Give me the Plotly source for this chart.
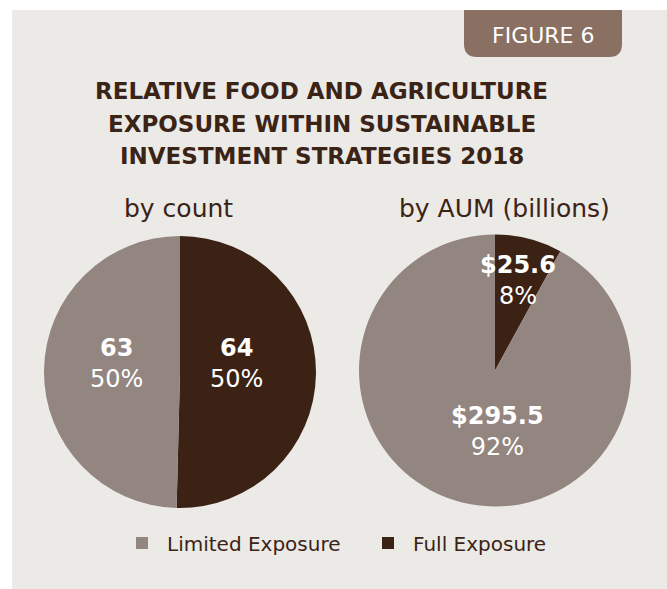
import plotly.graph_objects as go

# ---- data ----
categories = ["Full Exposure", "Limited Exposure"]
count_values = [64, 63]
aum_values = [25.6, 295.5]
subtitles = ["by count", "by AUM (billions)"]
title_lines = ["RELATIVE FOOD AND AGRICULTURE",
               "EXPOSURE WITHIN SUSTAINABLE",
               "INVESTMENT STRATEGIES 2018"]
figure_tag = "FIGURE 6"

# ---- styles ----
W, H = 667, 589
COLORS = ["#3C2215", "#938580"]
DARK = "#3B2316"
PANEL = "#ECEAE6"
TAB = "#8A6F63"
FONT = "DejaVu Sans"


def px(x):
    return x / W


def py(y):
    return 1 - y / H


def pie_domain(cx, cy, r):
    return dict(x=[px(cx - r), px(cx + r)], y=[py(cy + r), py(cy - r)])


fig = go.Figure()
fig.add_trace(go.Pie(
    labels=categories, values=count_values, sort=False,
    direction="clockwise", rotation=0,
    marker=dict(colors=COLORS, line=dict(width=0)),
    textinfo="none", hoverinfo="label+value+percent",
    domain=pie_domain(180, 372, 136), showlegend=True,
))
fig.add_trace(go.Pie(
    labels=categories, values=aum_values, sort=False,
    direction="clockwise", rotation=0,
    marker=dict(colors=COLORS, line=dict(width=0)),
    textinfo="none", hoverinfo="label+value+percent",
    domain=pie_domain(495, 370.5, 136), showlegend=False,
))

shapes = []
# background panel
shapes.append(dict(type="rect", xref="paper", yref="paper",
                   x0=px(12), x1=1, y0=0, y1=py(10),
                   fillcolor=PANEL, line=dict(width=0), layer="below"))
# figure tab with rounded bottom corners
x0, x1, y0, y1, rr = 464, 622, 10, 57, 13
path = (f"M{px(x0)},{py(y0)} L{px(x1)},{py(y0)} L{px(x1)},{py(y1 - rr)} "
        f"Q{px(x1)},{py(y1)} {px(x1 - rr)},{py(y1)} L{px(x0 + rr)},{py(y1)} "
        f"Q{px(x0)},{py(y1)} {px(x0)},{py(y1 - rr)} Z")
shapes.append(dict(type="path", xref="paper", yref="paper", path=path,
                   fillcolor=TAB, line=dict(width=0), layer="below"))

annotations = []
annotations.append(dict(text=figure_tag, x=px(543), y=py(35), xref="paper", yref="paper",
                        showarrow=False, font=dict(family=FONT, size=22, color="white"),
                        xanchor="center", yanchor="middle"))
for line, ly in zip(title_lines, [91.5, 124, 155.5]):
    annotations.append(dict(text=f"<b>{line}</b>", x=px(321.5), y=py(ly),
                            xref="paper", yref="paper", showarrow=False,
                            font=dict(family=FONT, size=23, color=DARK),
                            xanchor="center", yanchor="middle"))
for txt, cx in zip(subtitles, [178, 504]):
    annotations.append(dict(text=txt, x=px(cx), y=py(208), xref="paper", yref="paper",
                            showarrow=False, font=dict(family=FONT, size=25, color=DARK),
                            xanchor="center", yanchor="middle"))

# slice labels
tot_c = sum(count_values)
tot_a = sum(aum_values)
count_pos = {"Limited Exposure": (116, 364), "Full Exposure": (236, 364)}
aum_pos = {"Limited Exposure": (497, 431), "Full Exposure": (518, 280)}
for cat, v in zip(categories, count_values):
    lx, ly = count_pos[cat]
    annotations.append(dict(text=f"<b>{v}</b><br>{round(100 * v / tot_c)}%",
                            x=px(lx), y=py(ly), xref="paper", yref="paper",
                            showarrow=False, font=dict(family=FONT, size=24, color="white"),
                            xanchor="center", yanchor="middle"))
for cat, v in zip(categories, aum_values):
    lx, ly = aum_pos[cat]
    annotations.append(dict(text=f"<b>${v:.1f}</b><br>{round(100 * v / tot_a)}%",
                            x=px(lx), y=py(ly), xref="paper", yref="paper",
                            showarrow=False, font=dict(family=FONT, size=24, color="white"),
                            xanchor="center", yanchor="middle"))

fig.update_layout(
    width=W, height=H,
    margin=dict(l=0, r=0, t=0, b=0),
    paper_bgcolor="white", plot_bgcolor="white",
    shapes=shapes, annotations=annotations,
    legend=dict(orientation="h", x=px(117), xanchor="left", y=py(543), yanchor="middle",
                traceorder="reversed", itemwidth=40,
                font=dict(family=FONT, size=20, color=DARK),
                bgcolor="rgba(0,0,0,0)", entrywidth=191, entrywidthmode="pixels"),
)

fig.write_html("out.html", config={"displayModeBar": False},
               post_script="document.body.style.margin='0';")
